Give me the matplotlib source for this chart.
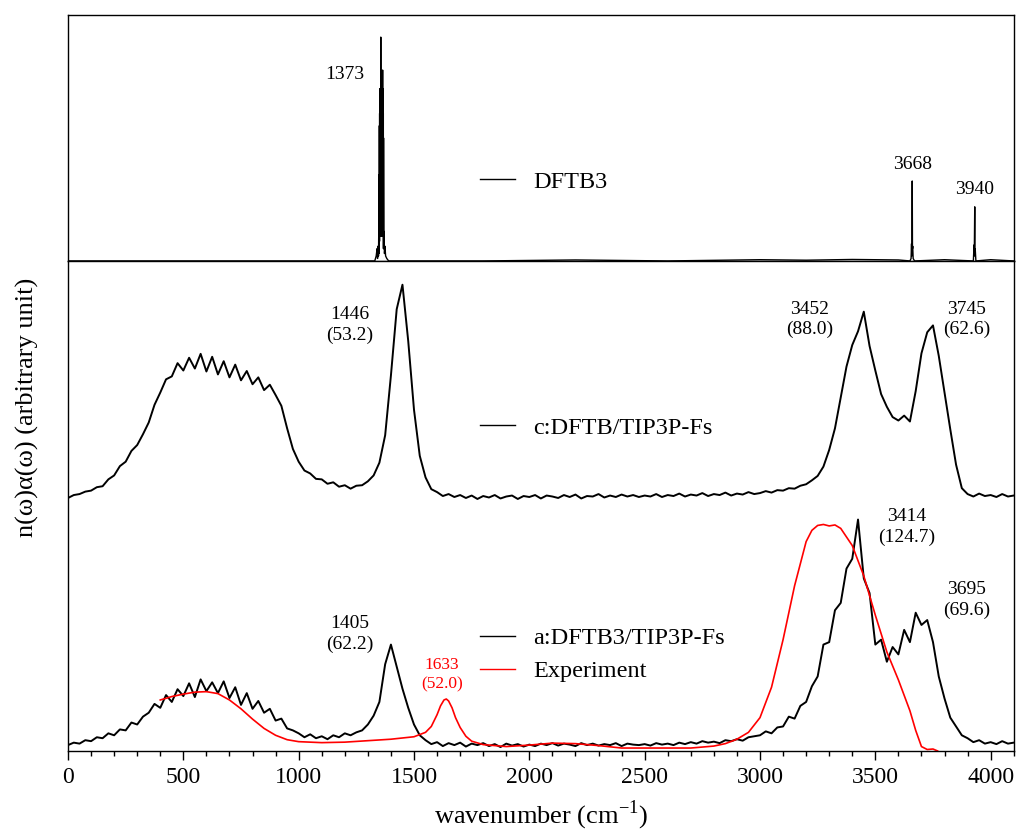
import numpy as np
import matplotlib
matplotlib.use("Agg")
import matplotlib.pyplot as plt
from matplotlib.ticker import MultipleLocator
from matplotlib.lines import Line2D

plt.rcParams['font.family'] = ['Liberation Serif', 'DejaVu Serif']
plt.rcParams['mathtext.fontset'] = 'custom'
plt.rcParams['mathtext.rm'] = 'Liberation Serif'

# ---- data ----
# DFTB3 spectrum (top panel, fraction of panel height)
dftb3_x = [0, 400, 800, 1200, 1330, 1336, 1340, 1342, 1344, 1346, 1347, 1348,
           1349, 1349.5, 1350, 1350.5, 1351, 1351.5, 1352, 1352.5, 1353, 1353.5,
           1354, 1354.5, 1355, 1355.5, 1356, 1356.5, 1357, 1357.5, 1358, 1358.5,
           1359, 1359.5, 1360, 1360.5, 1361, 1361.5, 1362, 1362.5, 1363, 1363.5,
           1364, 1364.5, 1365, 1365.5, 1366, 1366.5, 1367, 1367.5, 1368,
           1369, 1370, 1372, 1374, 1377, 1382, 1390,
           1800, 2200, 2600, 3000, 3200, 3400, 3600, 3650, 3655, 3657, 3658, 3659,
           3660, 3661, 3662, 3664, 3670, 3800, 3925, 3928, 3929, 3931, 3932, 3933,
           3936, 4000, 4100]
dftb3_y = [0, 0, 0, 0, 0, 0.02, 0.05, 0.01, 0.06, 0.02, 0.1, 0.03,
           0.35, 0.05, 0.55, 0.08, 0.6, 0.1, 0.68, 0.12, 0.7, 0.1,
           0.7, 0.15, 0.7, 0.1, 0.91, 0.2, 0.7, 0.15, 0.72, 0.1,
           0.71, 0.2, 0.71, 0.1, 0.7, 0.15, 0.7, 0.1, 0.7, 0.2,
           0.776, 0.1, 0.7, 0.15, 0.7, 0.1, 0.6, 0.05, 0.5,
           0.05, 0.12, 0.03, 0.06, 0.02, 0.01, 0,
           0, 0.004, 0, 0.005, 0.003, 0.006, 0.004, 0, 0.01, 0.07, 0.02, 0.07,
           0.325, 0.05, 0.06, 0.01, 0, 0.005, 0, 0.065, 0.02, 0.22, 0.03, 0.05,
           0, 0.005, 0]

# common grid of the liquid spectra (cm-1)
wavenumber = np.arange(0, 4125, 25)

# c:DFTB/TIP3P-Fs
spec_c = [
    0.0, 0.6, 0.8, 1.3, 1.5, 2.2, 2.4, 3.8, 4.6, 6.5, 7.4, 9.6, 10.8, 13.0, 15.4, 19.0, 21.5, 24.2, 24.8, 27.5,
    26.0, 28.6, 26.4, 29.4, 25.8, 28.8, 25.2, 27.9, 24.6, 27.2, 24.0, 25.9, 23.2, 24.6, 22.0, 23.1, 21.0, 18.8, 14.2, 10.0,
    7.4, 5.6, 5.0, 3.9, 3.8, 2.9, 3.2, 2.3, 2.6, 1.9, 2.5, 2.6, 3.4, 4.6, 7.2, 12.8, 25.0, 38.5, 43.5, 32.0,
    18.0, 8.6, 4.2, 1.8, 1.2, 0.4, 0.8, 0.2, 0.6, 0.0, 0.5, -0.2, 0.4, 0.1, 0.6, -0.1, 0.3, 0.5, -0.2, 0.4,
    0.2, 0.6, -0.1, 0.5, 0.3, 0.0, 0.6, 0.2, 0.7, -0.1, 0.4, 0.3, 0.8, 0.1, 0.5, 0.2, 0.7, 0.3, 0.6, 0.2,
    0.5, 0.3, 0.8, 0.2, 0.6, 0.4, 0.9, 0.3, 0.7, 0.5, 1.0, 0.4, 0.8, 0.6, 1.1, 0.5, 0.9, 0.7, 1.2, 0.8,
    1.0, 1.4, 1.1, 1.6, 1.5, 2.0, 1.9, 2.5, 2.8, 3.6, 4.5, 6.4, 9.8, 14.2, 20.5, 26.8, 31.2, 34.0, 38.0, 31.0,
    26.0, 21.2, 18.6, 16.5, 15.8, 16.8, 15.6, 21.8, 29.5, 33.8, 35.2, 29.0, 21.5, 14.0, 6.8, 2.0, 0.8, 0.3, 0.9, 0.4,
    0.6, 0.2, 0.8, 0.3, 0.5]

# a:DFTB3/TIP3P-Fs
spec_a = [
    0.0, 0.5, 0.3, 1.0, 0.8, 1.6, 1.4, 2.4, 2.0, 3.2, 3.0, 4.6, 4.2, 5.8, 6.6, 8.4, 7.6, 10.2, 8.8, 11.4,
    10.0, 12.6, 9.8, 13.4, 11.0, 12.8, 10.6, 13.0, 9.6, 11.8, 8.2, 10.6, 7.4, 9.0, 6.6, 7.4, 5.0, 5.4, 3.4, 3.0,
    2.4, 1.6, 2.2, 1.4, 1.8, 1.2, 2.0, 1.6, 2.4, 2.0, 2.6, 3.0, 4.2, 6.0, 8.8, 16.5, 20.5, 16.0, 11.5, 7.6,
    4.2, 2.0, 1.0, 0.2, 0.6, -0.2, 0.4, 0.0, 0.5, -0.3, 0.3, 0.0, 0.4, -0.2, 0.2, -0.4, 0.3, -0.1, 0.2, -0.3,
    0.1, -0.2, 0.3, 0.0, 0.4, -0.1, 0.3, 0.1, -0.2, 0.4, 0.0, 0.3, -0.1, 0.2, 0.0, 0.4, -0.2, 0.3, 0.1, 0.0,
    0.2, -0.1, 0.4, 0.1, 0.3, 0.0, 0.5, 0.2, 0.6, 0.3, 0.8, 0.5, 0.7, 0.4, 1.0, 0.8, 1.2, 0.9, 1.6, 1.8,
    2.0, 2.8, 2.4, 3.6, 3.8, 5.8, 5.4, 8.0, 8.8, 12.0, 14.0, 20.5, 21.0, 27.5, 29.0, 36.0, 38.0, 46.0, 34.0, 31.0,
    20.5, 21.5, 17.0, 20.0, 18.5, 23.5, 21.0, 27.0, 24.5, 25.5, 21.0, 14.0, 9.5, 5.6, 3.8, 2.0, 1.4, 0.6, 1.0, 0.3,
    0.6, 0.2, 0.8, 0.3, 0.5]

# Experiment
exp_x = [400, 450, 500, 550, 600, 650, 700, 750, 800, 850, 900, 950, 1000, 1100, 1200, 1300,
         1400, 1500, 1550, 1575, 1600, 1615, 1630, 1640, 1650, 1665, 1680, 1700, 1725, 1750,
         1800, 1900, 2000, 2100, 2200, 2300, 2400, 2500, 2600, 2700, 2800, 2850, 2900, 2950,
         3000, 3050, 3100, 3150, 3200, 3225, 3250, 3275, 3300, 3325, 3350, 3400, 3450, 3500,
         3550, 3600, 3650, 3675, 3700, 3725, 3750, 3770]
exp_y = [9.2, 9.9, 10.4, 10.8, 10.9, 10.5, 9.2, 7.4, 5.3, 3.4, 2.0, 1.1, 0.7, 0.5, 0.6, 0.9,
         1.2, 1.7, 2.6, 3.8, 6.2, 8.0, 9.2, 9.4, 9.0, 7.6, 5.6, 3.6, 1.8, 0.8,
         0.1, -0.3, 0.0, 0.4, 0.3, -0.1, -0.6, -0.6, -0.6, -0.6, -0.2, 0.3, 1.2, 2.6,
         5.6, 11.8, 21.5, 32.5, 41.5, 43.8, 44.8, 45.0, 44.7, 44.9, 44.2, 40.7, 34.5, 26.5,
         19.0, 13.3, 7.0, 3.0, -0.3, -0.9, -0.8, -1.2]

offset_c = 51.6
offset_a = 1.2

# ---- figure ----
fig = plt.figure(figsize=(10.18, 8.31), dpi=100)
ax_top = fig.add_axes([0.0668, 0.686, 0.929, 0.296])
ax = fig.add_axes([0.0668, 0.0963, 0.929, 0.590])

for a in (ax_top, ax):
    for s in a.spines.values():
        s.set_linewidth(1.0)
    a.set_xlim(0, 4100)
    a.set_yticks([])

# top panel
ax_top.plot(dftb3_x, dftb3_y, color='black', lw=1.0)
ax_top.set_ylim(0, 1)
ax_top.set_xticks([])
ax_top.legend([Line2D([], [], color='black', lw=1.0)], ['DFTB3'],
              loc='center left', bbox_to_anchor=(0.4355, 0.321), frameon=False,
              fontsize=17.5, borderpad=0, borderaxespad=0, handlelength=1.44,
              handletextpad=0.74)
ax_top.text(1200, 0.756, '1373', fontsize=14, ha='center', va='center')
ax_top.text(3661, 0.394, '3668', fontsize=14, ha='center', va='center')
ax_top.text(3930, 0.289, '3940', fontsize=14, ha='center', va='center')

# bottom panel (two offset spectra)
spec_c_arr = np.array(spec_c)
spec_a_arr = np.array(spec_a)
ax.plot(wavenumber, spec_c_arr + offset_c, color='black', lw=1.4)
ax.plot(wavenumber, spec_a_arr + offset_a, color='black', lw=1.4)
ax.plot(exp_x, np.array(exp_y) + offset_a, color='red', lw=1.2)
ax.set_ylim(0, 100)

ax.xaxis.set_major_locator(MultipleLocator(500))
ax.xaxis.set_minor_locator(MultipleLocator(100))
ax.tick_params(axis='x', which='major', direction='out', length=6.5, width=1.0,
               labelsize=17, pad=5)
ax.tick_params(axis='x', which='minor', direction='out', length=3.6, width=1.0)

leg_c = ax.legend([Line2D([], [], color='black', lw=1.0)], ['c:DFTB/TIP3P-Fs'],
                  loc='center left', bbox_to_anchor=(0.4355, 0.659), frameon=False,
                  fontsize=17.5, borderpad=0, borderaxespad=0, handlelength=1.44,
                  handletextpad=0.74)
ax.add_artist(leg_c)
ax.legend([Line2D([], [], color='black', lw=1.0), Line2D([], [], color='red', lw=1.0)],
          ['a:DFTB3/TIP3P-Fs', 'Experiment'],
          loc='center left', bbox_to_anchor=(0.4355, 0.196), frameon=False,
          fontsize=17.5, borderpad=0, borderaxespad=0, handlelength=1.44,
          handletextpad=0.74, labelspacing=0.45)

ann = dict(fontsize=14, ha='center', va='center', linespacing=1.25)
ax.text(1222, 86.9, '1446\n(53.2)', **ann)
ax.text(3215, 88.0, '3452\n(88.0)', **ann)
ax.text(3895, 88.0, '3745\n(62.6)', **ann)
ax.text(1222, 23.9, '1405\n(62.2)', **ann)
ax.text(3635, 45.7, '3414\n(124.7)', **ann)
ax.text(3895, 30.8, '3695\n(69.6)', **ann)
ax.text(1620, 15.5, '1633\n(52.0)', fontsize=12.5, ha='center', va='center',
        linespacing=1.25, color='red')

fig.text(0.531, 0.019, 'wavenumber (cm$^{-1}$)', fontsize=19, ha='center', va='center')
fig.text(0.027, 0.51, 'n(ω)α(ω) (arbitrary unit)', fontsize=19, ha='center',
         va='center', rotation=90)

fig.savefig('out.png', dpi=100)
